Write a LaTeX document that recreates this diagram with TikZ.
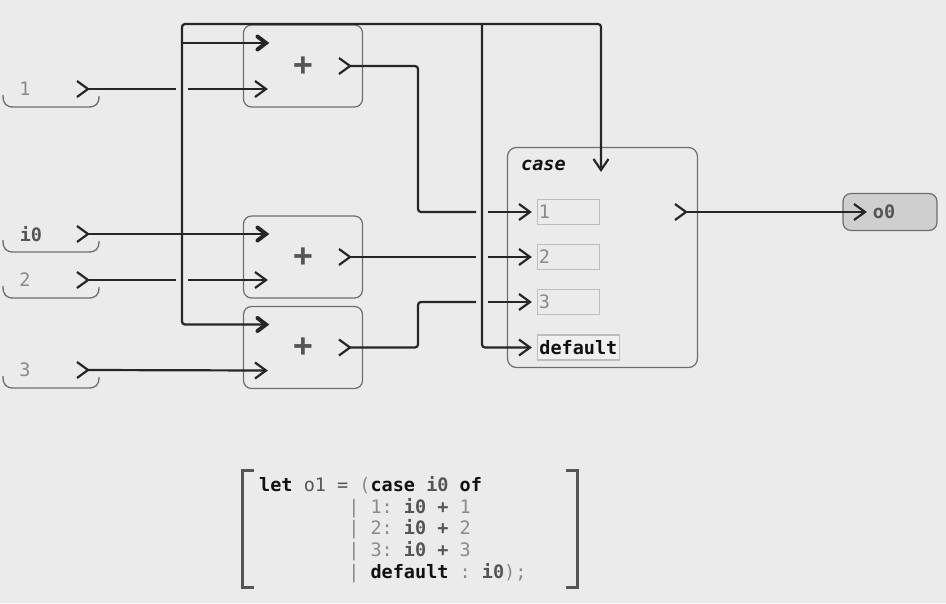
\documentclass[tikz,border=0pt]{standalone}
\usepackage{fontspec}
\setmainfont{DejaVu Sans Mono}
\setmonofont{DejaVu Sans Mono}
\usetikzlibrary{positioning, calc}

\definecolor{canvas}{HTML}{EBEBEB}
\definecolor{wirec}{HTML}{262626}
\definecolor{boxc}{HTML}{6E6E6E}
\definecolor{kwc}{HTML}{111111}
\definecolor{varc}{HTML}{555555}
\definecolor{litc}{HTML}{8A8A8A}
\definecolor{valc}{HTML}{BDBDBD}
\definecolor{outfill}{HTML}{CFCFCF}

\newcommand{\ckw}[1]{{\bfseries\color{kwc}#1}}
\newcommand{\cvar}[1]{{\color{varc}#1}}
\newcommand{\cvarb}[1]{{\bfseries\color{varc}#1}}
\newcommand{\clit}[1]{{\color{litc}#1}}

\tikzset{
  chev/.pic={\draw[wirec, line width=2.2pt] (-11,-8) -- (0,0) -- (-11,8);},
  chevB/.pic={\draw[wirec, line width=4pt, line cap=round] (-8.5,-6.5) -- (0,0) -- (-8.5,6.5);},
  chevD/.pic={\draw[wirec, line width=2.2pt] (-7.5,-11) -- (0,0) -- (7.5,-11);}
}

\begin{document}
\frenchspacing
\begin{tikzpicture}[x=1pt, y=-1pt,
    wire/.style={draw=wirec, line width=2.2pt},
    brk/.style={draw=boxc, line width=1.3pt},
    brkt/.style={draw=varc, line width=2.5pt},
    lit/.style={inner sep=0pt, text=litc, font=\fontsize{18.5}{22}\selectfont},
    var/.style={inner sep=0pt, text=varc, font=\fontsize{18.5}{22}\selectfont\bfseries},
    opbox/.style={draw=boxc, line width=1.2pt, rounded corners=8pt, minimum width=119pt,
                  minimum height=82pt, inner sep=0pt, text=varc,
                  font=\fontsize{32}{32}\selectfont\bfseries},
    casebox/.style={draw=boxc, line width=1.2pt, rounded corners=9pt,
                    minimum width=190pt, minimum height=220pt},
    valbox/.style={draw=valc, line width=1.2pt, minimum height=25pt, text width=59pt,
                   inner xsep=1.3pt, inner ysep=0pt, align=left, text=litc,
                   font=\fontsize{18.5}{22}\selectfont},
    defbox/.style={draw=valc, fill=black!6, line width=1.2pt, minimum height=25pt,
                   inner xsep=1.8pt, inner ysep=0pt, text=kwc,
                   font=\fontsize{18.5}{22}\selectfont\bfseries},
    outbox/.style={draw=boxc, fill=outfill, line width=1.2pt, rounded corners=8pt,
                   minimum width=94pt, minimum height=37pt},
    code/.style={anchor=base west, inner sep=0pt, font=\fontsize{18.5}{22}\selectfont}
]
    \useasboundingbox[fill=canvas] (0,0) rectangle (946,603);

    % sources
    \foreach \n/\y/\t in {1/89/1, 2/280/2, 3/370/3} {
        \node[lit] (lab\n) at (25,\y) {\t};
        \coordinate (src\n) at (88,\y);
    }
    \node[var] (labi) at (31,234) {i0};
    \coordinate (srci) at (88,234);
    \foreach \y in {89,234,280,370}
        \draw[brk] (3,\y+6) .. controls (3,\y+15) and (6,\y+18) .. (14,\y+18) -- (88,\y+18)
            .. controls (96,\y+18) and (99,\y+15) .. (99,\y+7);

    % adders
    \foreach \n/\y in {1/66, 2/257, 3/347.5} {
        \node[opbox] (add\n) at (303,\y) {+};
        \coordinate (add\n a) at (266,\y-23);
        \coordinate (add\n b) at (266,\y+23);
        \coordinate (add\n o) at (350,\y);
    }

    % case block
    \node[casebox] (cs) at (602.5,257.5) {};
    \node[anchor=base west, inner sep=0pt, text=kwc, font=\fontsize{18.5}{22}\selectfont\bfseries\itshape]
        (cslab) at (521,170.5) {case};
    \coordinate (csel) at (601,170);
    \foreach \n/\y/\t in {1/212/1, 2/257/2, 3/302/3} {
        \node[valbox, anchor=west] (val\n) at (537,\y) {\t};
        \coordinate (cin\n) at (530,\y);
    }
    \node[defbox, anchor=west] (vald) at (537,347.5) {default};
    \coordinate (cind) at (530,347.5);
    \coordinate (cout) at (686,212);

    % output
    \node[outbox] (o0) at (890,212) {};
    \node[var] (o0lab) at (884,212) {o0};
    \coordinate (oin) at (865,212);

    % buses
    \coordinate (bus) at (182,24);
    \coordinate (tap) at (482,24);
    \coordinate (jog) at (418,24);

    % wires
    \draw[wire] (srci) -- (add2a);
    \draw[wire] (src3) -- (add3b);
    \draw[wire] (src1) -- ($(bus |- src1)+(-6,0)$) ($(bus |- src1)+(6,0)$) -- (add1b);
    \draw[wire] (src2) -- ($(bus |- src2)+(-6,0)$) ($(bus |- src2)+(6,0)$) -- (add2b);
    \draw[wire, rounded corners=3pt] (add3a) -| (bus) -| (csel);
    \draw[wire] (bus |- add1a) -- (add1a);
    \draw[wire, rounded corners=3pt] (tap) |- (cind);
    \draw[wire, rounded corners=3pt] (add1o) -| (jog |- cin1) -- ($(tap |- cin1)+(-6,0)$);
    \draw[wire] ($(tap |- cin1)+(6,0)$) -- (cin1);
    \draw[wire] (add2o) -- ($(tap |- cin2)+(-6,0)$) ($(tap |- cin2)+(6,0)$) -- (cin2);
    \draw[wire, rounded corners=3pt] (add3o) -| (jog |- cin3) -- ($(tap |- cin3)+(-6,0)$);
    \draw[wire] ($(tap |- cin3)+(6,0)$) -- (cin3);
    \draw[wire] (cout) -- (oin);

    % ports
    \foreach \p in {src1,src2,src3,srci,add1b,add2b,add3b,add1o,add2o,add3o,cin1,cin2,cin3,cind,cout,oin}
        \pic at (\p) {chev};
    \foreach \p in {add1a,add2a,add3a}
        \pic at (\p) {chevB};
    \pic at (csel) {chevD};

    % code
    \draw[brkt] (254,470.5) -- (242.5,470.5) -- (242.5,587.5) -- (254,587.5);
    \draw[brkt] (566,470.5) -- (577.5,470.5) -- (577.5,587.5) -- (566,587.5);
    \node[code] (ln1) at (259,491.5) {\ckw{let} \cvar{o1} \cvar{=} \clit{(}\ckw{case} \cvarb{i0} \ckw{of}};
    \node[code] (ln2) at (259,513) {\phantom{let o1 =}\clit{|} \clit{1:} \cvarb{i0} \cvarb{+} \clit{1}};
    \node[code] (ln3) at (259,534.7) {\phantom{let o1 =}\clit{|} \clit{2:} \cvarb{i0} \cvarb{+} \clit{2}};
    \node[code] (ln4) at (259,556.3) {\phantom{let o1 =}\clit{|} \clit{3:} \cvarb{i0} \cvarb{+} \clit{3}};
    \node[code] (ln5) at (259,578) {\phantom{let o1 =}\clit{|} \ckw{default} \clit{:} \cvarb{i0}\clit{);}};
\end{tikzpicture}
\end{document}
